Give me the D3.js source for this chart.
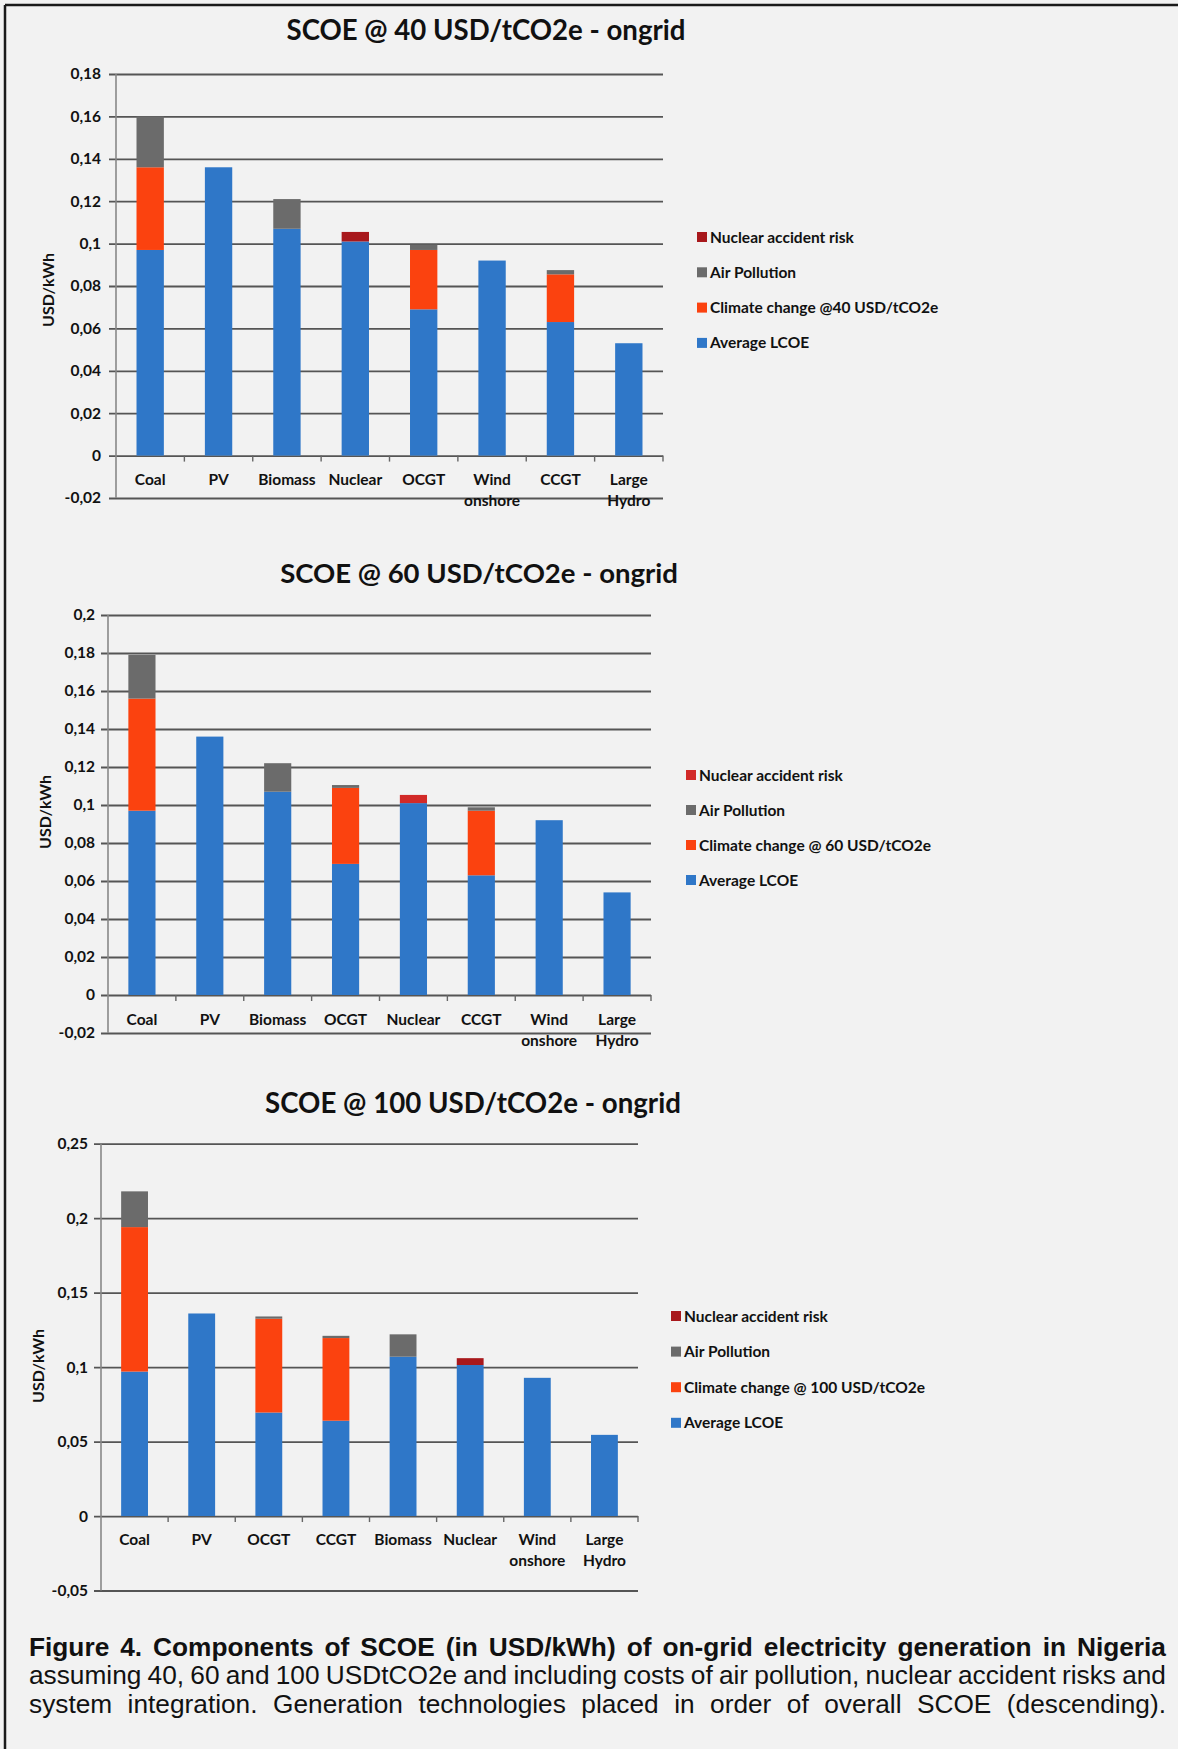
<!DOCTYPE html>
<html><head><meta charset="utf-8">
<script src="https://cdn.jsdelivr.net/npm/d3@7/dist/d3.min.js"></script>
<style>html,body{margin:0;padding:0;background:#f2f2f2;} svg{display:block;}</style>
</head><body>
<svg id="fig" width="1178" height="1749"></svg>
<script>
// ---------- DATA ----------
const categories40 = ["Coal","PV","Biomass","Nuclear","OCGT","Wind onshore","CCGT","Large Hydro"];
const lcoe40     = [0.097, 0.136, 0.107, 0.101, 0.069, 0.092, 0.063, 0.053];
const climate40  = [0.039, 0,     0,     0,     0.028, 0,     0.0225, 0];
const air40      = [0.024, 0,     0.014, 0,     0.0025, 0,    0.002, 0];
const nuclear40  = [0,     0,     0,     0.0045, 0,    0,     0,     0];
const ticks40    = [-0.02, 0, 0.02, 0.04, 0.06, 0.08, 0.1, 0.12, 0.14, 0.16, 0.18];
const legend40   = ["Nuclear accident risk","Air Pollution","Climate change @40 USD/tCO2e","Average LCOE"];
const title40    = "SCOE @ 40 USD/tCO2e - ongrid";

const categories60 = ["Coal","PV","Biomass","OCGT","Nuclear","CCGT","Wind onshore","Large Hydro"];
const lcoe60     = [0.097, 0.136, 0.107, 0.069, 0.101, 0.063, 0.092, 0.054];
const climate60  = [0.059, 0,     0,     0.040, 0,     0.034, 0,     0];
const air60      = [0.023, 0,     0.015, 0.0015, 0,    0.0018, 0,    0];
const nuclear60  = [0,     0,     0,     0,     0.0043, 0,    0,     0];
const ticks60    = [-0.02, 0, 0.02, 0.04, 0.06, 0.08, 0.1, 0.12, 0.14, 0.16, 0.18, 0.2];
const legend60   = ["Nuclear accident risk","Air Pollution","Climate change @ 60 USD/tCO2e","Average LCOE"];
const title60    = "SCOE @ 60 USD/tCO2e - ongrid";

const categories100 = ["Coal","PV","OCGT","CCGT","Biomass","Nuclear","Wind onshore","Large Hydro"];
const lcoe100    = [0.097, 0.136, 0.0695, 0.064, 0.107, 0.1014, 0.0928, 0.0545];
const climate100 = [0.097, 0,     0.063,  0.0555, 0,    0,      0,      0];
const air100     = [0.024, 0,     0.0015, 0.0015, 0.015, 0,     0,      0];
const nuclear100 = [0,     0,     0,      0,      0,     0.0046, 0,     0];
const ticks100   = [-0.05, 0, 0.05, 0.1, 0.15, 0.2, 0.25];
const legend100  = ["Nuclear accident risk","Air Pollution","Climate change @ 100 USD/tCO2e","Average LCOE"];
const title100   = "SCOE @ 100 USD/tCO2e - ongrid";

const yAxisTitle = "USD/kWh";
const captionLines = [
  "Figure 4. Components of SCOE (in USD/kWh) of on-grid electricity generation in Nigeria",
  "assuming 40, 60 and 100 USDtCO2e and including costs of air pollution, nuclear accident risks and",
  "system integration. Generation technologies placed in order of overall SCOE (descending)."
];

// ---------- STYLE / LAYOUT ----------
const FONT = "Lato, Carlito, 'Open Sans', sans-serif";
const keys = ["lcoe","climate","air","nuclear"];
const baseColors = {lcoe:"#2f77c8", climate:"#fb420f", air:"#6b6b6b", nuclear:"#a8181c"};

const charts = [
  {cats:categories40, lcoe:lcoe40, climate:climate40, air:air40, nuclear:nuclear40, ticks:ticks40, legend:legend40, title:title40,
   x0:116, x1:663, yTop:74, yBot:498, titleX:486, titleY:40, titleW:399, tickRight:101, ylabX:48, ylabY:290,
   catY:485, legX:697, legY:237, legStep:35.3, nuc:"#a8181c"},
  {cats:categories60, lcoe:lcoe60, climate:climate60, air:air60, nuclear:nuclear60, ticks:ticks60, legend:legend60, title:title60,
   x0:108, x1:651, yTop:615, yBot:1033, titleX:479, titleY:583, titleW:398, tickRight:95, ylabX:45, ylabY:812,
   catY:1025, legX:686, legY:775, legStep:35, nuc:"#d22a28"},
  {cats:categories100, lcoe:lcoe100, climate:climate100, air:air100, nuclear:nuclear100, ticks:ticks100, legend:legend100, title:title100,
   x0:101, x1:638, yTop:1143.7, yBot:1590.5, titleX:473, titleY:1113, titleW:416, tickRight:88, ylabX:38, ylabY:1366,
   catY:1545, legX:671, legY:1316, legStep:35.6, nuc:"#a8181c"}
];

const fmt = d3.formatLocale({decimal:",", thousands:".", grouping:[3], currency:["",""], minus:"-"}).format("~g");
const svg = d3.select("#fig");

svg.append("rect").attr("width",1178).attr("height",1749).attr("fill","#f2f2f2");
// page frame (top + left edges of the scanned box)
svg.append("line").attr("x1",5).attr("x2",1178).attr("y1",5).attr("y2",5).attr("stroke","#1a1a1a").attr("stroke-width",2.5);
svg.append("line").attr("x1",5).attr("x2",5).attr("y1",5).attr("y2",1749).attr("stroke","#1a1a1a").attr("stroke-width",2.5);

charts.forEach(c => {
  const g = svg.append("g");
  const ticks = c.ticks;
  const y = d3.scaleLinear().domain([ticks[0], ticks[ticks.length-1]]).range([c.yBot, c.yTop]);
  const x = d3.scaleBand().domain(c.cats).range([c.x0, c.x1]).paddingInner(0.6).paddingOuter(0.3);
  const colors = Object.assign({}, baseColors, {nuclear:c.nuc});

  // gridlines + y ticks
  const yAxis = d3.axisLeft(y).tickValues(ticks).tickSize(-(c.x1 - c.x0)).tickSizeOuter(0).tickFormat(fmt).tickPadding(0);
  const ya = g.append("g").attr("transform", `translate(${c.x0},0)`).call(yAxis);
  ya.select(".domain").remove();
  ya.selectAll(".tick line").attr("x1", -7).attr("stroke","#555").attr("stroke-width",1.8);
  ya.selectAll(".tick text").attr("x", c.tickRight - c.x0).attr("font-family",FONT).attr("font-weight","bold")
    .attr("font-size",15.5).attr("fill","#111").attr("text-anchor","end");

  // vertical axis line
  g.append("line").attr("x1",c.x0).attr("x2",c.x0).attr("y1",y.range()[1]).attr("y2",y.range()[0])
    .attr("stroke","#888").attr("stroke-width",1.6);

  // x category tick marks at band boundaries
  const step = x.step();
  const bounds = c.cats.map((d,i) => c.x0 + step*(i+1));
  g.selectAll(".xt").data(bounds).join("line").attr("x1",d=>d).attr("x2",d=>d)
    .attr("y1",y(0)).attr("y2",y(0)+6).attr("stroke","#666").attr("stroke-width",1.4);

  // stacked bars
  const rows = c.cats.map((cat,i) => ({cat, lcoe:c.lcoe[i], climate:c.climate[i], air:c.air[i], nuclear:c.nuclear[i]}));
  const stacked = d3.stack().keys(keys)(rows);
  g.selectAll(".series").data(stacked).join("g").attr("fill", s => colors[s.key])
    .selectAll("rect").data(s => s.filter(d => d[1]-d[0] > 0)).join("rect")
    .attr("x", d => x(d.data.cat)).attr("width", x.bandwidth())
    .attr("y", d => y(d[1])).attr("height", d => y(d[0]) - y(d[1]));

  // category labels
  g.selectAll(".cl").data(c.cats).join("text")
    .attr("x", d => x(d) + x.bandwidth()/2).attr("y", c.catY)
    .attr("text-anchor","middle").attr("font-family",FONT).attr("font-weight","bold").attr("font-size",15.5).attr("fill","#111")
    .each(function(d){
      const parts = d.split(" ");
      const t = d3.select(this);
      parts.forEach((p,i) => t.append("tspan").attr("x", x(d) + x.bandwidth()/2).attr("dy", i===0?0:21).text(p));
    });

  // y axis title
  g.append("text").attr("transform",`translate(${c.ylabX},${c.ylabY}) rotate(-90)`)
    .attr("text-anchor","middle").attr("dy","0.35em").attr("font-family",FONT).attr("font-weight","bold")
    .attr("font-size",16).attr("fill","#111").text(yAxisTitle);

  // title (fit to measured width)
  const tt = g.append("text").attr("x",c.titleX).attr("y",c.titleY).attr("text-anchor","middle")
    .attr("font-family",FONT).attr("font-weight","bold").attr("font-size",25).attr("fill","#111").text(c.title);
  const tw = tt.node().getComputedTextLength();
  if (tw > 0) tt.attr("font-size", 25 * c.titleW / tw);

  // legend
  const legKeys = ["nuclear","air","climate","lcoe"];
  const lg = g.append("g");
  c.legend.forEach((name,i) => {
    const yy = c.legY + i*c.legStep;
    lg.append("rect").attr("x",c.legX).attr("y",yy-5).attr("width",10).attr("height",10).attr("fill",colors[legKeys[i]]);
    lg.append("text").attr("x",c.legX+13).attr("y",yy).attr("dy","0.36em").attr("font-family",FONT)
      .attr("font-weight","bold").attr("font-size",15.5).attr("fill","#111").text(name);
  });
});

// ---------- CAPTION (justified) ----------
const capX0 = 29, capX1 = 1166, capBase = [1656, 1684, 1713], capFS = 26;
const CAPFONT = "'Liberation Sans', Arial, Helvetica, sans-serif";
const meas = svg.append("text").attr("font-family",CAPFONT).attr("font-size",capFS).attr("visibility","hidden");
function wordW(w, bold){ meas.attr("font-weight", bold?"bold":"normal").text(w); return meas.node().getComputedTextLength(); }
const lineInfo = captionLines.map((line,i) => {
  const bold = i===0;
  const words = line.split(" ");
  const widths = words.map(w => wordW(w,bold));
  const space = wordW("a a",bold) - wordW("aa",bold);
  return {words, widths, bold, space};
});
const L0 = lineInfo[0];
const sx = (capX1 - capX0) / (d3.sum(L0.widths) + 1.5*L0.space*(L0.words.length-1));
meas.remove();
lineInfo.forEach((L,i) => {
  const target = (capX1 - capX0)/sx;
  const gap = (target - d3.sum(L.widths)) / (L.words.length-1);
  const gg = svg.append("g").attr("transform",`translate(${capX0},${capBase[i]}) scale(${sx},1)`);
  const t = gg.append("text").attr("font-family",CAPFONT).attr("font-size",capFS)
    .attr("font-weight",L.bold?"bold":"normal").attr("fill","#111");
  let pos = 0;
  L.words.forEach((w,j) => { t.append("tspan").attr("x",pos).attr("y",0).text(w); pos += L.widths[j] + gap; });
});
</script>
</body></html>
